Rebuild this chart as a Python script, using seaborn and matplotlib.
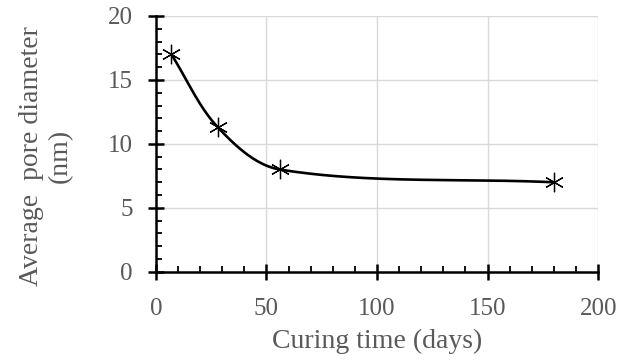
import numpy as np
import pandas as pd
import matplotlib
matplotlib.use("Agg")
import matplotlib.pyplot as plt
from matplotlib.ticker import MultipleLocator
import seaborn as sns

# Curing time (days) and measured average pore diameter (nm)
curing_days = [7, 28, 56, 180]
pore_diameter = [17.0, 11.3, 8.0, 7.0]

x_ticks = [0, 50, 100, 150, 200]
y_ticks = [0, 5, 10, 15, 20]

TEXT = "#595959"
GRID = "#d9d9d9"


def smooth_curve(xs, ys, xscale, yscale, n=80):
    """Cubic Bezier smoothing through the points with chord-length scaled
    tangents, evaluated in screen-proportional space."""
    p = np.column_stack([np.asarray(xs, float) * xscale, np.asarray(ys, float) * yscale])
    k = len(p)
    d = np.linalg.norm(np.diff(p, axis=0), axis=1)
    tang = np.zeros_like(p)
    for i in range(k):
        if i == 0:
            tang[i] = (p[1] - p[0]) / d[0]
        elif i == k - 1:
            tang[i] = (p[-1] - p[-2]) / d[-1]
        else:
            tang[i] = (p[i + 1] - p[i - 1]) / (d[i - 1] + d[i])
    out = []
    t = np.linspace(0, 1, n)[:, None]
    for i in range(k - 1):
        p1, p2 = p[i], p[i + 1]
        c1 = p1 + tang[i] * d[i] / 3.0
        c2 = p2 - tang[i + 1] * d[i] / 3.0
        seg = ((1 - t) ** 3) * p1 + 3 * ((1 - t) ** 2) * t * c1 + 3 * (1 - t) * t ** 2 * c2 + t ** 3 * p2
        out.append(seg if i == 0 else seg[1:])
    out = np.vstack(out)
    return out[:, 0] / xscale, out[:, 1] / yscale


sns.set_theme(style="white")
plt.rcParams["font.family"] = ["Liberation Serif", "DejaVu Serif"]

fig = plt.figure(figsize=(6.31, 3.62), dpi=100)
ax = fig.add_axes([0.247, 0.249, 0.701, 0.707])

# plot area is about 442 px wide and 256 px tall
sx, sy = smooth_curve(curing_days, pore_diameter, 442 / 200, 256 / 20)
curve = pd.DataFrame({"days": sx, "diameter": sy})
sns.lineplot(data=curve, x="days", y="diameter", ax=ax, color="black",
             linewidth=1.9, sort=False, estimator=None, zorder=3)

ax.plot(curing_days, pore_diameter, linestyle="none", marker=(6, 2, 0),
        markersize=14, markeredgewidth=0.9, color="black", zorder=4)

ax.set_xlim(0, 200)
ax.set_ylim(0, 20)
ax.set_xticks(x_ticks)
ax.set_yticks(y_ticks)
ax.xaxis.set_minor_locator(MultipleLocator(10))
ax.yaxis.set_minor_locator(MultipleLocator(1))

ax.grid(True, which="major", color=GRID, linewidth=1.0, zorder=0)
ax.set_axisbelow(True)

for side in ("top", "right"):
    ax.spines[side].set_visible(False)
for side in ("left", "bottom"):
    ax.spines[side].set_color("black")
    ax.spines[side].set_linewidth(1.8)
    ax.spines[side].set_zorder(5)

ax.tick_params(which="major", direction="inout", length=11, width=1.8,
               color="black", labelsize=18, labelcolor=TEXT)
ax.tick_params(axis="y", which="major", pad=11)
ax.tick_params(axis="x", which="major", pad=13)
ax.tick_params(which="minor", direction="in", length=4, width=1.3, color="black")
ax.tick_params(axis="x", which="both", bottom=True)
ax.tick_params(axis="y", which="both", left=True)

ax.set_xlabel("Curing time (days)", fontsize=20, color=TEXT, labelpad=7)
ax.set_ylabel("Average  pore diameter\n(nm)", fontsize=20, color=TEXT,
              linespacing=1.2)
ax.yaxis.set_label_coords(-0.188, 0.453)

fig.savefig("out.png", dpi=100)
